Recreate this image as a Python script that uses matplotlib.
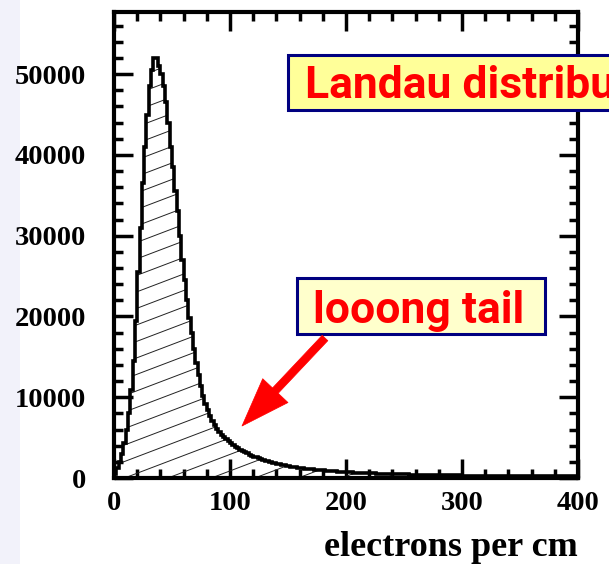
import numpy as np
import matplotlib
matplotlib.use('Agg')
import matplotlib.pyplot as plt
from matplotlib.patches import Rectangle, FancyArrowPatch, ArrowStyle
from matplotlib.ticker import MultipleLocator, FuncFormatter

# ---------------- data ----------------
bin_edges = np.arange(0, 402, 2)  # 200 bins, width 2
counts = [
    500, 1200, 2000, 3000, 4300, 6000, 8000, 10900, 14500, 19500,
    25500, 31000, 36500, 41000, 45000, 48500, 50500, 52000, 52000, 51000,
    50000, 48500, 46500, 44000, 41000, 38500, 35500, 33000, 30000, 27000,
    24500, 22000, 19800, 17900, 16000, 14300, 12700, 11400, 10200, 9200,
    8400, 7700, 7100, 6600, 6100, 5700, 5350, 5050, 4780, 4550,
    4300, 4100, 3900, 3700, 3520, 3350, 3200, 3050, 2900, 2780,
    2660, 2550, 2440, 2340, 2240, 2150, 2060, 1980, 1900, 1830,
    1760, 1700, 1640, 1580, 1520, 1470, 1420, 1370, 1330, 1290,
    1250, 1210, 1170, 1140, 1110, 1080, 1050, 1020, 990, 960,
    935, 910, 885, 860, 840, 820, 800, 780, 760, 740,
    725, 710, 695, 680, 665, 650, 637, 624, 611, 598,
    586, 574, 562, 551, 540, 530, 520, 510, 500, 491,
    482, 473, 465, 457, 449, 441, 434, 427, 420, 413,
    406, 400, 394, 388, 382, 376, 370, 365, 360, 355,
    350, 345, 340, 335, 331, 327, 323, 319, 315, 311,
    307, 303, 300, 296, 293, 290, 287, 284, 281, 278,
    275, 272, 269, 266, 264, 261, 258, 256, 253, 251,
    248, 246, 244, 242, 240, 238, 236, 234, 232, 230,
    228, 226, 224, 222, 220, 218, 216, 214, 212, 210,
    208, 206, 205, 203, 201, 200, 198, 196, 195, 193,
]
x_label = 'electrons per cm'
box1_text = 'Landau distribution'
box2_text = 'looong tail'

# ---------------- figure ----------------
plt.rcParams['font.family'] = ['Liberation Serif', 'DejaVu Serif']
plt.rcParams['font.weight'] = 'bold'

W, H = 609, 564
fig = plt.figure(figsize=(W / 100, H / 100), dpi=100)


def fx(x):
    return x / W


def fy(y):
    return 1 - y / H


# faint slide background strip at the left edge (behind everything)
fig.patches.append(Rectangle((0, 0), 20 / W, 1, transform=fig.transFigure,
                             facecolor='#F2F2FA', edgecolor='none', zorder=-5))

ax_l, ax_r, ax_t, ax_b = 114, 578, 12, 478
ax = fig.add_axes([fx(ax_l), fy(ax_b), (ax_r - ax_l) / W, (ax_b - ax_t) / H])
ax.patch.set_alpha(0)
ax.set_zorder(1)

clip = ax.stairs(counts, bin_edges, fill=True, facecolor='none', edgecolor='none')
ax.stairs(counts, bin_edges, color='black', linewidth=2.6, zorder=3)

# shallow-angle hatching clipped to the histogram area
aw, ah = ax_r - ax_l, ax_b - ax_t
slope = 0.38 * aw / ah
dy = 16.5 / ah
xs = np.array([0.0, 1.0])
for y0 in np.arange(-1.0, 1.0, dy):
    ln, = ax.plot(xs, y0 + slope * xs, transform=ax.transAxes,
                  color='#222222', lw=0.7, zorder=2)
    ln.set_clip_path(clip)

ax.set_xlim(0, 400)
ax.set_ylim(0, 57700)
ax.xaxis.set_major_locator(MultipleLocator(100))
ax.xaxis.set_minor_locator(MultipleLocator(20))
ax.yaxis.set_major_locator(MultipleLocator(10000))
ax.yaxis.set_minor_locator(MultipleLocator(2000))
fmt = FuncFormatter(lambda v, p: '%d' % int(round(v)))
ax.xaxis.set_major_formatter(fmt)
ax.yaxis.set_major_formatter(fmt)

ax.tick_params(which='both', direction='in', top=True, right=True, width=2.5,
               labelsize=20.5)
ax.tick_params(which='major', length=14)
ax.tick_params(which='minor', length=6.5)
ax.tick_params(axis='y', pad=20)
ax.tick_params(axis='x', pad=9)
for s in ax.spines.values():
    s.set_linewidth(3)

ax.set_xlabel(x_label, loc='right', fontsize=26, fontweight='bold', labelpad=11)

# ---------------- annotation boxes ----------------
navy = '#000080'
fig.patches.append(Rectangle((fx(288), fy(110)), (720 - 288) / W, (110 - 55) / H,
                             transform=fig.transFigure, facecolor='#FFFF99',
                             edgecolor=navy, linewidth=2.2, zorder=5))
fig.text(fx(305), fy(98), box1_text, color='red', fontsize=32, fontweight='bold',
         family=['Roboto', 'DejaVu Sans'], ha='left', va='baseline', zorder=6)

fig.patches.append(Rectangle((fx(297), fy(334)), (545 - 297) / W, (334 - 278) / H,
                             transform=fig.transFigure, facecolor='#FFFFCC',
                             edgecolor=navy, linewidth=2.2, zorder=5))
fig.text(fx(313), fy(322.5), box2_text, color='red', fontsize=32, fontweight='bold',
         family=['Roboto', 'DejaVu Sans'], ha='left', va='baseline', zorder=6)

arrow = FancyArrowPatch(posA=(fx(325), fy(338)), posB=(fx(242), fy(426)),
                        transform=fig.transFigure,
                        arrowstyle=ArrowStyle.Simple(head_length=35, head_width=25,
                                                     tail_width=5.6),
                        mutation_scale=1, facecolor='red', edgecolor='red',
                        linewidth=0.5, shrinkA=0, shrinkB=0, zorder=6)
fig.patches.append(arrow)

fig.savefig('out.png', dpi=100)
